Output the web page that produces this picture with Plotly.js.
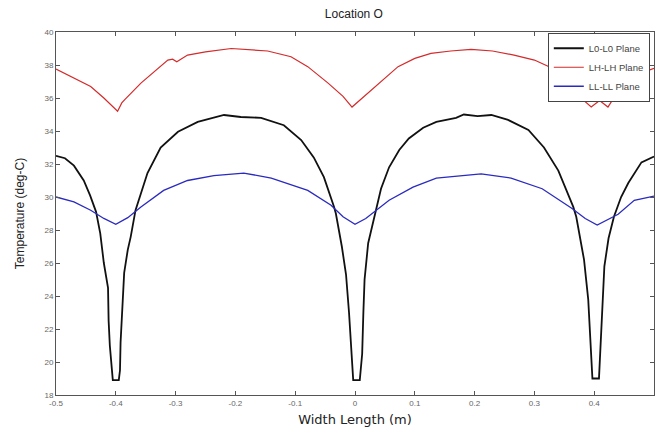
<!DOCTYPE html>
<html><head><meta charset="utf-8">
<script src="https://cdn.plot.ly/plotly-3.0.1.min.js"></script>
<style>html,body{margin:0;padding:0;background:#fff}#c{width:659px;height:430px}</style>
</head><body><div id="c"></div>
<script>
const seriesNames = ["L0-L0 Plane", "LH-LH Plane", "LL-LL Plane"];
const xL0 = [-0.5,-0.485,-0.47,-0.4536,-0.443,-0.433,-0.426,-0.42,-0.413,-0.412,-0.41,-0.407,-0.405,-0.395,-0.393,-0.392,-0.389,-0.386,-0.38,-0.375,-0.367,-0.357,-0.347,-0.325,-0.296,-0.263,-0.219,-0.191,-0.157,-0.119,-0.09,-0.069,-0.052,-0.035,-0.032,-0.022,-0.015,-0.01,-0.006,-0.003,0.008,0.012,0.014,0.016,0.022,0.032,0.0435,0.057,0.074,0.09,0.114,0.136,0.169,0.182,0.205,0.228,0.256,0.29,0.316,0.34,0.356,0.365,0.37,0.377,0.383,0.39,0.394,0.397,0.408,0.411,0.415,0.417,0.424,0.433,0.445,0.457,0.479,0.495,0.5];
const yL0 = [32.5,32.35,31.9,31.0,30.1,29.1,27.8,26.0,24.5,22.5,21.0,19.5,18.9,18.9,19.5,21.2,23.5,25.4,26.8,27.6,29.2,30.4,31.45,33.0,33.95,34.55,34.97,34.85,34.8,34.35,33.45,32.4,31.2,29.4,29.0,27.0,25.3,23.0,20.5,18.9,18.9,20.5,23.0,25.0,27.2,28.8,30.5,31.8,32.85,33.55,34.2,34.55,34.8,35.0,34.9,34.97,34.67,34.06,33.0,31.6,30.2,29.4,28.8,27.5,26.2,23.8,21.0,19.0,19.0,21.0,23.8,25.8,27.5,28.8,30.0,30.85,32.1,32.4,32.45];
const xLH = [-0.5,-0.47,-0.442,-0.42,-0.397,-0.39,-0.385,-0.358,-0.335,-0.313,-0.305,-0.298,-0.28,-0.25,-0.207,-0.175,-0.146,-0.107,-0.079,-0.045,-0.02,-0.005,0.015,0.04,0.072,0.1,0.127,0.16,0.194,0.23,0.266,0.3,0.33,0.356,0.375,0.395,0.409,0.423,0.445,0.47,0.5];
const yLH = [37.75,37.2,36.7,36.0,35.2,35.7,35.9,36.9,37.6,38.3,38.35,38.2,38.6,38.8,39.0,38.9,38.85,38.5,37.9,36.9,36.1,35.45,36.1,36.9,37.9,38.4,38.7,38.85,38.95,38.85,38.6,38.3,37.8,36.9,36.1,35.45,35.85,35.45,36.7,37.4,37.8];
const xLL = [-0.5,-0.47,-0.442,-0.42,-0.4,-0.38,-0.358,-0.32,-0.28,-0.236,-0.186,-0.14,-0.079,-0.04,-0.02,0.0,0.018,0.057,0.097,0.136,0.18,0.211,0.261,0.313,0.363,0.385,0.405,0.44,0.467,0.5];
const yLL = [30.0,29.7,29.2,28.7,28.35,28.75,29.4,30.4,31.0,31.3,31.45,31.15,30.4,29.5,28.8,28.35,28.7,29.8,30.6,31.15,31.3,31.4,31.15,30.5,29.3,28.7,28.3,28.95,29.8,30.05];
const xTicks = [-0.5,-0.4,-0.3,-0.2,-0.1,0,0.1,0.2,0.3,0.4,0.5];
const xTickText = ["-0.5","-0.4","-0.3","-0.2","-0.1","0","0.1","0.2","0.3","0.4","0.5"];
const yTicks = [18,20,22,24,26,28,30,32,34,36,38,40];

const traces = [
  {x:xL0,y:yL0,name:seriesNames[0],mode:'lines',line:{color:'#111',width:1.8}},
  {x:xLH,y:yLH,name:seriesNames[1],mode:'lines',line:{color:'#d42a2a',width:1.2}},
  {x:xLL,y:yLL,name:seriesNames[2],mode:'lines',line:{color:'#2a2ac0',width:1.3}}
];
const axBase = {showgrid:false,zeroline:false,showline:true,linecolor:'#555',linewidth:1,mirror:'ticks',ticks:'inside',ticklen:4,tickcolor:'#555',tickfont:{family:'Liberation Sans, Arial, sans-serif',size:8,color:'#666'}};
const layout = {
  width:659,height:430,paper_bgcolor:'#fff',plot_bgcolor:'#fff',
  margin:{l:56,r:5,t:32,b:35},
  title:{text:'Location O',font:{family:'Liberation Sans, Arial, sans-serif',size:12,color:'#222'},x:0.537,xanchor:'center',y:0.968,yanchor:'middle'},
  xaxis:Object.assign({},axBase,{range:[-0.5,0.5],tickvals:xTicks,ticktext:xTickText,
    title:{text:'Width Length (m)',font:{family:'DejaVu Sans, sans-serif',size:13,color:'#222'},standoff:8}}),
  yaxis:Object.assign({},axBase,{range:[18,40],tickvals:yTicks,
    title:{text:'Temperature (deg-C)',font:{family:'Liberation Sans, Arial, sans-serif',size:12,color:'#222'},standoff:17}}),
  showlegend:true,
  legend:{x:0.993,y:0.998,xanchor:'right',yanchor:'top',bgcolor:'#fff',bordercolor:'#444',borderwidth:1,font:{family:'Liberation Sans, Arial, sans-serif',size:9.5,color:'#444'},tracegroupgap:0}
};
Plotly.newPlot('c',traces,layout,{displayModeBar:false,staticPlot:true});
</script></body></html>
